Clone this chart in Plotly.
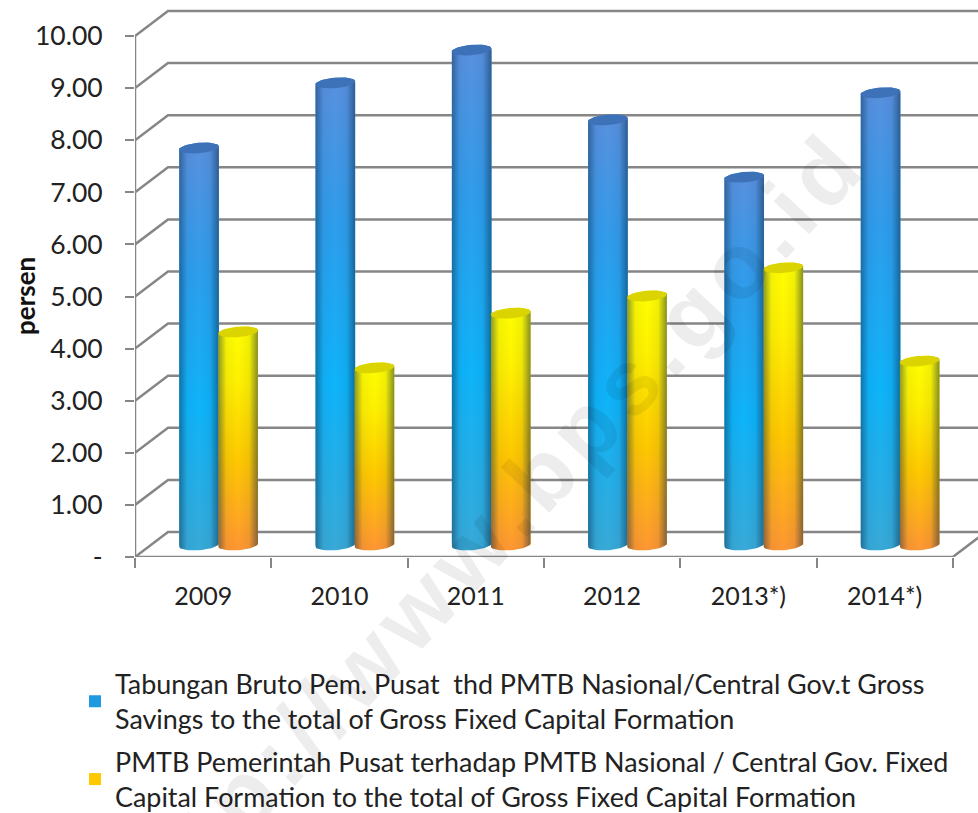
import numpy as np
import plotly.graph_objects as go

years = ["2009", "2010", "2011", "2012", "2013*)", "2014*)"]
tabungan = [7.62, 8.87, 9.50, 8.16, 7.06, 8.68]
pmtb = [4.09, 3.40, 4.45, 4.78, 5.32, 3.53]
y_ticks = [0, 1, 2, 3, 4, 5, 6, 7, 8, 9, 10]
y_labels = ["-", "1.00", "2.00", "3.00", "4.00", "5.00", "6.00", "7.00", "8.00", "9.00", "10.00"]
name_a = "Tabungan Bruto Pem. Pusat  thd PMTB Nasional/Central Gov.t Gross<br>Savings to the total of Gross Fixed Capital Formation"
name_b = "PMTB Pemerintah Pusat terhadap PMTB Nasional / Central Gov. Fixed<br>Capital Formation to the total of Gross Fixed Capital Formation"
watermark = "\u200a".join("http://www.bps.go.id")

W, H = 978, 813
PX_X = 136.3                   # pixels per category
PX_Y = 52.1                    # pixels per unit
ML, MT, MB = 135, 8, 256
xr = [-0.5, -0.5 + (W - ML) / PX_X]
yr = [0, (H - MB - MT) / PX_Y]
DX, DY = 33 / PX_X, 25 / PX_Y  # wall depth
XEND = 5.5
BASE = 12 / PX_Y               # bars stand in the middle of the floor
BW = 39.5 / PX_X
RY = 5.2 / PX_Y
TILT = 1.6 / PX_Y
OFFS = {"a": -0.03, "b": 0.257}
GRID = "#868686"


def paper_x(px):
    return (px - ML) / (W - ML)


def paper_y(py):
    return 1 - (py - MT) / (H - MT - MB)


fig = go.Figure()

# walls
gx, gy = [], []
for v in y_ticks:
    gx += [-0.5, -0.5 + DX, xr[1], None]
    gy += [v, v + DY, v + DY, None]
fig.add_trace(go.Scatter(x=gx, y=gy, mode="lines", line=dict(color=GRID, width=2.5),
                         showlegend=False, hoverinfo="skip"))
fig.add_trace(go.Scatter(x=[-0.5, -0.5, None, -0.5, XEND, XEND + DX],
                         y=[10, 0, None, 0, 0, DY], mode="lines",
                         line=dict(color=GRID, width=2.5), showlegend=False, hoverinfo="skip"))

t_up = np.linspace(np.pi, 0, 25)
t_dn = np.linspace(0, -np.pi, 25)


def cylinder(xc, v, body_scale, cap_color):
    rx = BW / 2
    top = BASE + v
    bx = np.r_[xc + rx * np.cos(t_up), xc + rx * np.cos(t_dn)]
    by = np.r_[top + RY * np.sin(t_up) + TILT * np.cos(t_up), BASE + RY * np.sin(t_dn) + TILT * np.cos(t_dn)]
    common = dict(mode="lines", line=dict(width=0), fill="toself", showlegend=False, hoverinfo="skip")
    fig.add_trace(go.Scatter(x=bx, y=by, fillgradient=dict(type="vertical", colorscale=body_scale), **common))
    fig.add_trace(go.Scatter(x=bx, y=by, fillgradient=dict(type="horizontal", colorscale=[
        [0, "rgba(10,40,70,0.45)"], [0.2, "rgba(10,40,70,0.05)"], [0.5, "rgba(10,40,70,0)"],
        [0.78, "rgba(10,40,70,0.06)"], [1, "rgba(10,40,70,0.50)"]]), **common))
    tt = np.linspace(0, 2 * np.pi, 40)
    fig.add_trace(go.Scatter(x=xc + rx * np.cos(tt), y=top + RY * np.sin(tt) + TILT * np.cos(tt),
                             fillcolor=cap_color, **common))


BLUE_SCALE = [[0, "#38AAD8"], [0.35, "#0EB4FA"], [0.7, "#2F9DEC"], [1, "#5A90DE"]]
YELLOW_SCALE = [[0, "#FF9633"], [0.4, "#FFC800"], [0.75, "#FFF000"], [1, "#FFFF00"]]

pos = list(range(len(years)))
fig.add_trace(go.Bar(x=[p + OFFS["a"] for p in pos], y=tabungan, base=BASE, width=BW, name=name_a,
                     marker=dict(color="#1E9BE0", line=dict(width=0)), legendgroup="a", hoverinfo="skip"))
fig.add_trace(go.Bar(x=[p + OFFS["b"] for p in pos], y=pmtb, base=BASE, width=BW, name=name_b,
                     marker=dict(color="#FFC800", line=dict(width=0)), legendgroup="b", hoverinfo="skip"))
for p, a, b in zip(pos, tabungan, pmtb):
    cylinder(p + OFFS["a"], a, BLUE_SCALE, "#3E72B8")
    cylinder(p + OFFS["b"], b, YELLOW_SCALE, "#DCD400")

fig.update_layout(
    width=W, height=H, autosize=False,
    margin=dict(l=ML, r=0, t=MT, b=MB, autoexpand=False),
    paper_bgcolor="white", plot_bgcolor="white",
    font=dict(family="Lato", color="#222222", size=25),
    barmode="overlay",
    xaxis=dict(range=xr, tickmode="array", tickvals=pos, ticktext=years, showgrid=False, zeroline=False,
               showline=False, ticks="", ticklabelstandoff=22, tickfont=dict(size=25),
               minor=dict(tickmode="array", tickvals=[-0.5, 0.5, 1.5, 2.5, 3.5, 4.5, 5.5],
                          ticks="outside", ticklen=10, tickwidth=1.5, tickcolor=GRID, showgrid=False)),
    yaxis=dict(range=yr, tickmode="array", tickvals=y_ticks, ticktext=y_labels, showgrid=False,
               zeroline=False, showline=False, ticks="outside", ticklen=9, tickwidth=1.5, tickcolor=GRID,
               ticklabelstandoff=17, tickfont=dict(size=26.5)),
    legend=dict(x=paper_x(75), y=-0.187, xref="paper", yref="paper", xanchor="left", yanchor="top",
                font=dict(size=26.9, color="#222222"), tracegroupgap=5, itemwidth=30,
                bgcolor="rgba(0,0,0,0)", traceorder="grouped", itemclick=False),
    annotations=[
        dict(text="<b>persen</b>", xref="paper", yref="paper", x=paper_x(25), y=paper_y(296),
             xanchor="center", yanchor="middle", showarrow=False, textangle=-90,
             font=dict(size=26, color="#111111")),
        dict(text="<b>" + watermark + "</b>", xref="paper", yref="paper",
             x=paper_x(484), y=paper_y(536), xanchor="center", yanchor="middle",
             showarrow=False, textangle=-47,
             font=dict(family="Liberation Sans", size=92, color="rgba(0,0,0,0.07)")),
    ],
)
fig.write_html("out.html", config={"displayModeBar": False},
               post_script="document.body.style.margin='0';")
